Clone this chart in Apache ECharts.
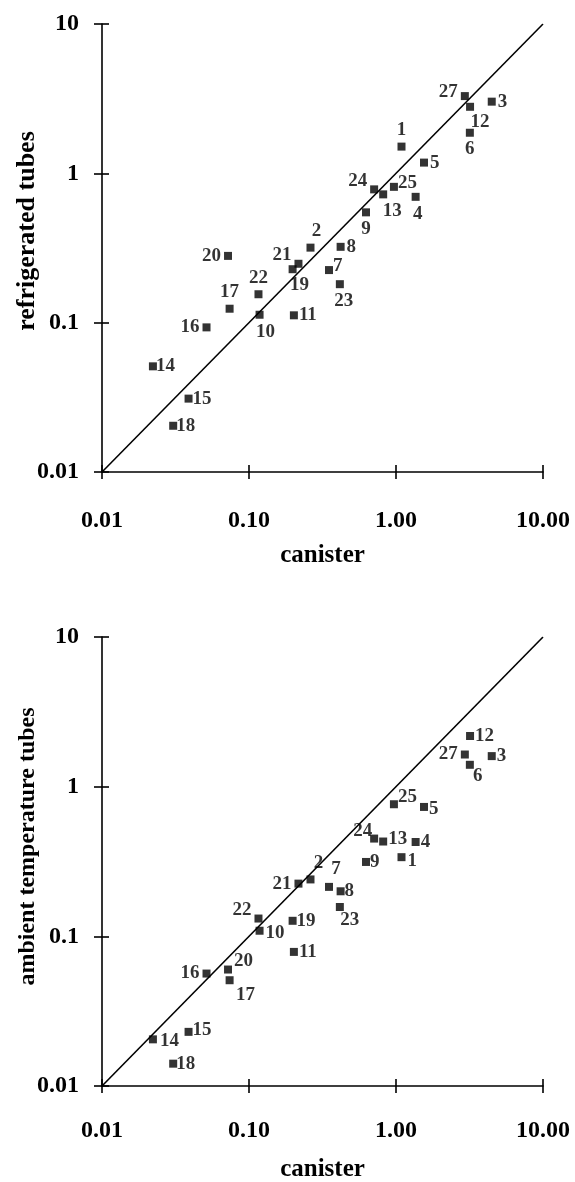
<!DOCTYPE html>
<html>
<head>
<meta charset="utf-8">
<script src="https://cdn.jsdelivr.net/npm/echarts@6/dist/echarts.min.js"></script>
<style>
  html, body { margin: 0; padding: 0; background: #fff; }
  #chart { width: 575px; height: 1182px; }
</style>
</head>
<body>
<div id="chart"></div>
<script>
// ---- data ----
const sampleIds = [1, 2, 3, 4, 5, 6, 7, 8, 9, 10, 11, 12, 13, 14, 15, 16, 17, 18, 19, 20, 21, 22, 23, 24, 25, 27];
const canister = [1.09, 0.262, 4.48, 1.36, 1.55, 3.18, 0.350, 0.420, 0.625, 0.118, 0.202, 3.19, 0.818, 0.0222, 0.0388, 0.0514, 0.0738, 0.0305, 0.198, 0.072, 0.217, 0.116, 0.415, 0.710, 0.968, 2.94];
const refrigeratedTubes = [1.51, 0.318, 3.02, 0.696, 1.18, 1.87, 0.225, 0.322, 0.548, 0.113, 0.112, 2.79, 0.723, 0.051, 0.031, 0.093, 0.124, 0.0204, 0.228, 0.28, 0.248, 0.155, 0.181, 0.781, 0.812, 3.29];
const ambientTubes = [0.338, 0.240, 1.60, 0.427, 0.732, 1.40, 0.214, 0.200, 0.314, 0.109, 0.0787, 2.18, 0.43, 0.0205, 0.023, 0.0564, 0.0509, 0.0141, 0.127, 0.060, 0.225, 0.1315, 0.157, 0.45, 0.763, 1.64];
const identityLine = [0.01, 10];
const xTickLabels = ['0.01', '0.10', '1.00', '10.00'];
const yTickLabels = ['0.01', '0.1', '1', '10'];
const xTitle = 'canister';
const yTitleTop = 'refrigerated tubes';
const yTitleBottom = 'ambient temperature tubes';

// ---- label placement (style only) ----
const labelPlaceTop = {
  1: ['top', 0, 0], 2: ['top', 6, 0], 3: ['right', -1, 0], 4: ['bottom', 2, 1], 5: ['right', -1, 0],
  6: ['bottom', 0, 0], 7: ['right', -3, -4], 8: ['right', -1, 0], 9: ['bottom', 0, 0], 10: ['bottom', 6, 1],
  11: ['right', -2, 0], 12: ['bottom', 10, -1], 13: ['bottom', 9, 0], 14: ['right', -4, 0], 15: ['right', -3, 0],
  16: ['left', 0, 0], 17: ['top', 0, 0], 18: ['right', -4, 0], 19: ['bottom', 7, -1], 20: ['left', 0, 0],
  21: ['left', 0, -9], 22: ['top', 0, 0], 23: ['bottom', 4, 0], 24: ['left', 0, -8], 25: ['right', -3, -4],
  27: ['left', 0, -4]
};
const labelPlaceBottom = {
  1: ['right', -1, 4], 2: ['top', 8, 0], 3: ['right', -2, 0], 4: ['right', -2, 0], 5: ['right', -2, 2],
  6: ['bottom', 8, -5], 7: ['top', 7, -1], 8: ['right', -3, 0], 9: ['right', -3, 0], 10: ['right', -1, 2],
  11: ['right', -2, 0], 12: ['right', -2, 0], 13: ['right', -2, -2], 14: ['right', 0, 2], 15: ['right', -3, -2],
  16: ['left', 0, 0], 17: ['bottom', 16, -2], 18: ['right', -4, 0], 19: ['right', -3, 0], 20: ['right', -1, -8],
  21: ['left', 0, 0], 22: ['left', 0, -8], 23: ['bottom', 10, -3], 24: ['left', 5, -7], 25: ['right', -3, -7],
  27: ['left', 0, 0]
};

const FONT = "'Liberation Serif', 'Times New Roman', serif";

function buildPoints(yValues, places) {
  return sampleIds.map((id, i) => {
    const p = places[id] || ['right', 0, 0];
    return {
      name: String(id),
      value: [canister[i], yValues[i]],
      label: { position: p[0], offset: [p[1], p[2]] }
    };
  });
}
function tickIndex(v) { return Math.round(Math.log10(v)) + 2; }

function mainX(gridIndex, margin) {
  return {
    type: 'log', logBase: 10, gridIndex: gridIndex, position: 'bottom',
    min: 0.01, max: 10,
    axisLine: { show: true, onZero: false, lineStyle: { color: '#000', width: 1.6 } },
    axisTick: { show: true, inside: false, length: 7, lineStyle: { color: '#000', width: 1.6 } },
    splitLine: { show: false },
    axisLabel: {
      margin: margin, color: '#000', fontFamily: FONT, fontWeight: 'bold', fontSize: 24,
      formatter: v => xTickLabels[tickIndex(v)]
    },
    name: xTitle, nameLocation: 'middle', nameGap: 71, nameMoveOverlap: false,
    nameTextStyle: { color: '#000', fontFamily: FONT, fontWeight: 'bold', fontSize: 25 }
  };
}
function innerX(gridIndex) {
  return {
    type: 'log', logBase: 10, gridIndex: gridIndex, position: 'bottom',
    min: 0.01, max: 10,
    axisLine: { show: false },
    axisTick: { show: true, inside: true, length: 7, lineStyle: { color: '#000', width: 1.6 } },
    splitLine: { show: false },
    axisLabel: { show: false }
  };
}
function mainY(gridIndex, title, size, pad) {
  return {
    type: 'log', logBase: 10, gridIndex: gridIndex, position: 'left',
    min: 0.01, max: 10,
    axisLine: { show: true, onZero: false, lineStyle: { color: '#000', width: 1.6 } },
    axisTick: { show: true, inside: false, length: 8, lineStyle: { color: '#000', width: 1.6 } },
    splitLine: { show: false },
    axisLabel: {
      margin: 23, color: '#000', fontFamily: FONT, fontWeight: 'bold', fontSize: 24,
      formatter: v => yTickLabels[tickIndex(v)]
    },
    name: title, nameLocation: 'middle', nameGap: 62, nameMoveOverlap: false,
    nameTextStyle: { color: '#000', fontFamily: FONT, fontWeight: 'bold', fontSize: size, padding: [0, 0, 0, pad] }
  };
}
function innerY(gridIndex) {
  return {
    type: 'log', logBase: 10, gridIndex: gridIndex, position: 'left',
    min: 0.01, max: 10,
    axisLine: { show: false },
    axisTick: { show: true, inside: true, length: 7, lineStyle: { color: '#000', width: 1.6 } },
    splitLine: { show: false },
    axisLabel: { show: false }
  };
}

const labelStyle = {
  show: true, formatter: '{b}', color: '#000', fontFamily: FONT, fontWeight: 'bold', fontSize: 19, distance: 3
};

const chart = echarts.init(document.getElementById('chart'), null, { renderer: 'canvas' });
chart.setOption({
  animation: false,
  backgroundColor: '#fff',
  grid: [
    { left: 102, top: 24, width: 441, height: 448, containLabel: false, outerBoundsMode: 'none' },
    { left: 102, top: 637, width: 441, height: 449, containLabel: false, outerBoundsMode: 'none' }
  ],
  xAxis: [mainX(0, 37), mainX(1, 33), innerX(0), innerX(1)],
  yAxis: [mainY(0, yTitleTop, 26, 34), mainY(1, yTitleBottom, 24, 30), innerY(0), innerY(1)],
  series: [
    {
      type: 'line', xAxisIndex: 0, yAxisIndex: 0, symbol: 'none', silent: true, z: 1,
      data: identityLine.map(v => [v, v]),
      lineStyle: { color: '#000', width: 1.6 }
    },
    {
      type: 'line', xAxisIndex: 1, yAxisIndex: 1, symbol: 'none', silent: true, z: 1,
      data: identityLine.map(v => [v, v]),
      lineStyle: { color: '#000', width: 1.6 }
    },
    {
      type: 'scatter', xAxisIndex: 0, yAxisIndex: 0, symbol: 'rect', symbolSize: 8, z: 3,
      itemStyle: { color: '#000' },
      label: labelStyle,
      data: buildPoints(refrigeratedTubes, labelPlaceTop)
    },
    {
      type: 'scatter', xAxisIndex: 1, yAxisIndex: 1, symbol: 'rect', symbolSize: 8, z: 3,
      itemStyle: { color: '#000' },
      label: labelStyle,
      data: buildPoints(ambientTubes, labelPlaceBottom)
    }
  ]
});
</script>
</body>
</html>
